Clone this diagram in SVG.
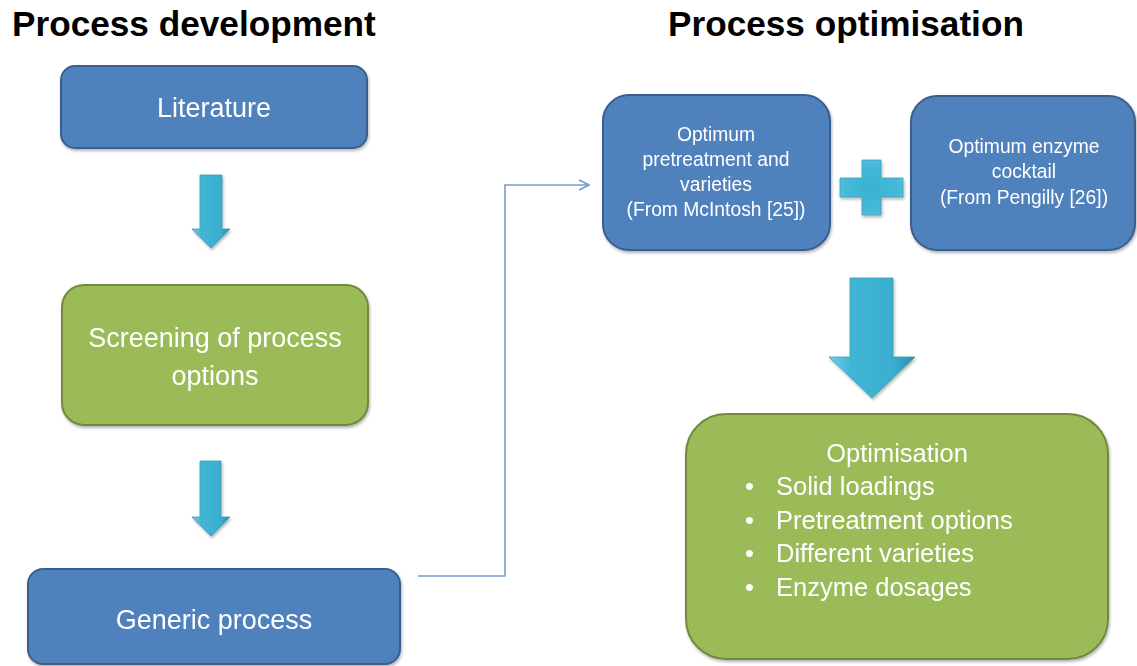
<svg xmlns="http://www.w3.org/2000/svg" width="1137" height="666" viewBox="0 0 1137 666">
<defs>
<style>
.title{font-family:"Liberation Sans",Arial,sans-serif;font-weight:bold;font-size:35.2px;fill:#000}
.blue{fill:#4F81BD;stroke:#3A5F8C;stroke-width:2}
.green{fill:#9BBB59;stroke:#71893F;stroke-width:2}
.t{font-family:"Liberation Sans",Arial,sans-serif;fill:#fff;text-anchor:middle}
.big{font-size:27px}
.small{font-size:19.3px}
.mid{font-size:25.5px}
.arrow{fill:url(#cyan);stroke:#3C9CB5;stroke-width:0.8}
.plus{fill:url(#cyanr);stroke:#3C9CB5;stroke-width:0.8}
.conn{fill:none;stroke:#7A9ACB;stroke-width:1.6}
</style>
<linearGradient id="cyan" x1="0" y1="0" x2="1" y2="0">
<stop offset="0" stop-color="#6FD0EA"/>
<stop offset="0.25" stop-color="#41B6D6"/>
<stop offset="0.75" stop-color="#3AAECF"/>
<stop offset="1" stop-color="#2A8FAE"/>
</linearGradient>
<radialGradient id="cyanr" cx="0.5" cy="0.5" r="0.6">
<stop offset="0" stop-color="#3CB0D0"/>
<stop offset="0.7" stop-color="#45B9D8"/>
<stop offset="1" stop-color="#5CC8E4"/>
</radialGradient>
<filter id="sh" x="-10%" y="-10%" width="130%" height="130%">
<feGaussianBlur in="SourceAlpha" stdDeviation="1.5"/>
<feOffset dx="1" dy="2" result="b"/>
<feComponentTransfer><feFuncA type="linear" slope="0.3"/></feComponentTransfer>
<feMerge><feMergeNode/><feMergeNode in="SourceGraphic"/></feMerge>
</filter>
<marker id="open" viewBox="0 0 12 12" refX="11" refY="6" markerWidth="12" markerHeight="12" markerUnits="userSpaceOnUse" orient="auto">
<path d="M1,1 L11,6 L1,11" fill="none" stroke="#7A9ACB" stroke-width="1.6"/>
</marker>
</defs>
<rect width="1137" height="666" fill="#fff"/>
<text class="title" x="12" y="36">Process development</text>
<text class="title" x="668" y="36">Process optimisation</text>

<g id="connectors">
<path class="conn" d="M418,576 H505 V185 H589" marker-end="url(#open)"/>
</g>

<g id="arrows" filter="url(#sh)">
<polygon class="arrow" points="200,175 222,175 222,229 230,229 211,248 192,229 200,229"/>
<polygon class="arrow" points="200,461 221,461 221,517 230,517 211,536 192,517 200,517"/>
<polygon class="arrow" points="850,278 893,278 893,357 915,357 872,398 829,357 850,357"/>
<polygon class="plus" points="862,160 881,160 881,178 903,178 903,197 881,197 881,215 862,215 862,197 840,197 840,178 862,178"/>
</g>

<g id="literature" filter="url(#sh)">
<rect class="blue" x="61" y="66" width="306" height="82" rx="14"/>
<text class="t big" x="214" y="117">Literature</text>
</g>

<g id="screening" filter="url(#sh)">
<rect class="green" x="62" y="285" width="306" height="140" rx="22"/>
<text class="t big" x="215" y="347">Screening of process</text>
<text class="t big" x="215" y="385">options</text>
</g>

<g id="generic" filter="url(#sh)">
<rect class="blue" x="28" y="569" width="372" height="95" rx="15"/>
<text class="t big" x="214" y="629">Generic process</text>
</g>

<g id="pretreatment" filter="url(#sh)">
<rect class="blue" x="603" y="95" width="227" height="155" rx="26"/>
<text class="t small" x="716" y="141">Optimum</text>
<text class="t small" x="716" y="166">pretreatment and</text>
<text class="t small" x="716" y="191">varieties</text>
<text class="t small" x="716" y="216">(From McIntosh [25])</text>
</g>

<g id="enzyme" filter="url(#sh)">
<rect class="blue" x="911" y="96" width="224" height="154" rx="26"/>
<text class="t small" x="1024" y="153">Optimum enzyme</text>
<text class="t small" x="1024" y="178">cocktail</text>
<text class="t small" x="1024" y="204">(From Pengilly [26])</text>
</g>

<g id="optimisation" filter="url(#sh)">
<rect class="green" x="686" y="414" width="422" height="245" rx="40"/>
<text class="t mid" x="897" y="462">Optimisation</text>
<text class="t mid" x="745" y="495" style="text-anchor:start">•</text>
<text class="t mid" x="776" y="495" style="text-anchor:start">Solid loadings</text>
<text class="t mid" x="745" y="529" style="text-anchor:start">•</text>
<text class="t mid" x="776" y="529" style="text-anchor:start">Pretreatment options</text>
<text class="t mid" x="745" y="562" style="text-anchor:start">•</text>
<text class="t mid" x="776" y="562" style="text-anchor:start">Different varieties</text>
<text class="t mid" x="745" y="596" style="text-anchor:start">•</text>
<text class="t mid" x="776" y="596" style="text-anchor:start">Enzyme dosages</text>
</g>
</svg>
